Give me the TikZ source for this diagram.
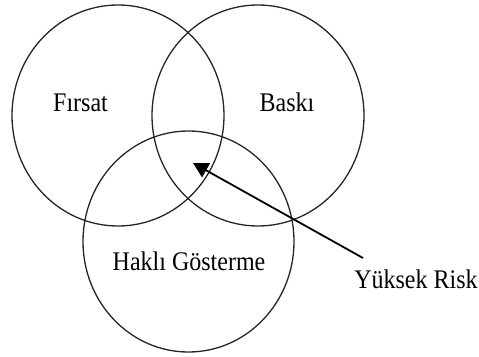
\documentclass[tikz,border=0pt]{standalone}
\usepackage{fontspec}
\usepackage{graphicx}
\setmainfont{Liberation Serif}
\usetikzlibrary{arrows.meta,shapes.geometric}
\begin{document}
\begin{tikzpicture}[x=1pt,y=-1pt,
  ring/.style={draw=black!85,line width=1.3pt,ellipse,minimum width=212pt,minimum height=221pt,inner sep=0pt},
  lbl/.style={font=\fontsize{24}{28}\selectfont,inner sep=0pt,anchor=base}]
\useasboundingbox (0,0) rectangle (479,356);
\node[ring] (c1) at (118,115.5) {};
\node[ring] (c2) at (258,115.5) {};
\node[ring,minimum width=211pt] (c3) at (188.5,241.5) {};
\node[lbl] (f) at (80.5,111) {\scalebox{1}[1.12]{Fırsat}};
\node[lbl] (b) at (287,111) {\scalebox{1}[1.12]{Baskı}};
\node[lbl] (h) at (189,270) {\scalebox{1}[1.12]{Haklı Gösterme}};
\node[lbl] (y) at (416,288) {\scalebox{1}[1.12]{Yüksek Risk}};
\coordinate (tip) at (193,163);
\coordinate (tail) at (363,258);
\draw[line width=1.8pt,-{Triangle[length=15pt,width=16pt]}] (tail) -- (tip);
\end{tikzpicture}
\end{document}
